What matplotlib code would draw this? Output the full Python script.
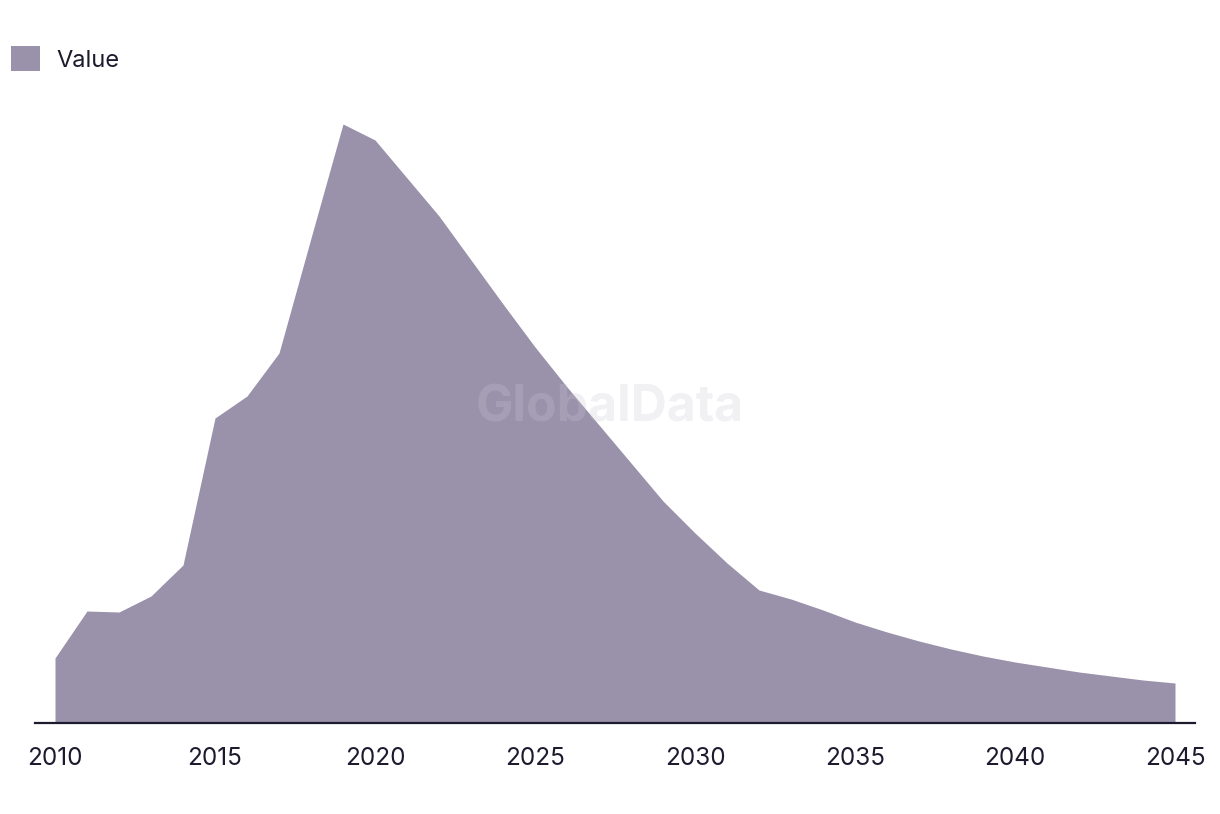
import matplotlib
matplotlib.use("Agg")
import matplotlib.pyplot as plt
from matplotlib.patches import Patch

years = list(range(2010, 2046))
values = [65, 112, 111, 127, 158, 305, 327, 370, 485, 599,
          583, 545, 507, 463, 419, 376, 336, 298, 260, 222,
          190, 160, 133, 124, 113, 101, 91, 82, 74, 67,
          61, 56, 51, 47, 43, 40]
tick_years = [2010, 2015, 2020, 2025, 2030, 2035, 2040, 2045]
series_name = "Value"

fill_color = "#9a91aa"
text_color = "#1c1b2e"

plt.rcParams['font.family'] = ['Inter', 'DejaVu Sans']

fig = plt.figure(figsize=(12.2, 8.14), dpi=100)
ax = fig.add_axes([35 / 1220, (814 - 723) / 814, 1160 / 1220, (723 - 90) / 814])

ax.fill_between(years, values, 0, color=fill_color, linewidth=0)
ax.set_xlim(2009.375, 2045.625)
ax.set_ylim(0, 633)

for s in ['top', 'right', 'left']:
    ax.spines[s].set_visible(False)
ax.spines['bottom'].set_color(text_color)
ax.spines['bottom'].set_linewidth(1.6)
ax.set_yticks([])
ax.set_xticks(tick_years)
ax.set_xticklabels([str(y) for y in tick_years], fontsize=17.5, color=text_color)
ax.tick_params(axis='x', length=0, pad=17)

# watermark
fig.text(610 / 1220, 1 - 408 / 814, "GlobalData", ha='center', va='center',
         fontsize=36, fontweight='bold', color='#c8c8d4', alpha=0.25, zorder=10)

# legend
fig.legend(handles=[Patch(facecolor=fill_color, edgecolor='none', label=series_name)],
           loc='upper left', bbox_to_anchor=(2 / 1220, 1 - 37 / 814), frameon=False,
           fontsize=17, handlelength=1.2, handleheight=1.2, handletextpad=0.7,
           labelcolor=text_color, borderaxespad=0.0)

fig.savefig("out.png", dpi=100)
